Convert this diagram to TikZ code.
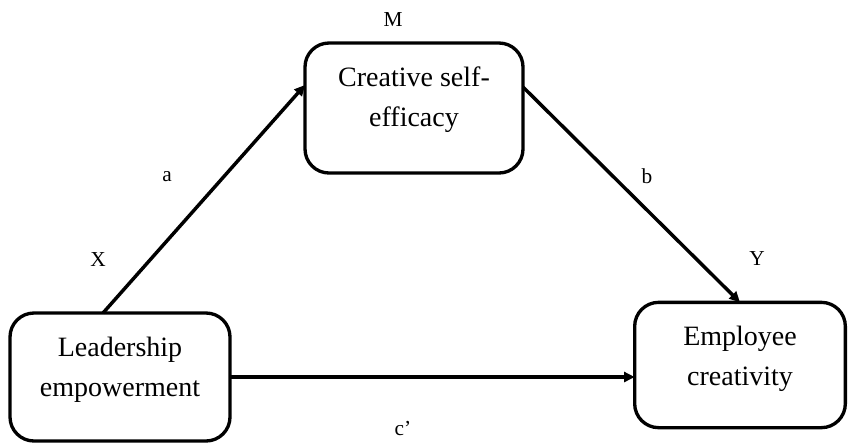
\documentclass[tikz,border=0pt]{standalone}
\usepackage{fontspec}
\setmainfont{Liberation Serif}
\usetikzlibrary{arrows.meta}
\begin{document}
\begin{tikzpicture}[x=0.75pt,y=-0.75pt,
    box/.style = {rectangle,draw=black,line width=2.5pt,rounded corners=18pt,minimum width=#1,outer sep=0mm},
    boxtext/.style = {align=center,font=\fontsize{21}{30}\selectfont},
    lbl/.style = {font=\fontsize{16}{18}\selectfont},
    path/.style = {line width=2.6pt,-{Triangle[length=8pt,width=7.5pt]}}]
\useasboundingbox (0,0) rectangle (848,444);
\node[box=165pt,minimum height=96pt]   (lead) at (120,377) {};
\node[box=163.5pt,minimum height=97.5pt] (cse)  at (414,108) {};
\node[box=158pt,minimum height=94pt]   (emp)  at (740,365) {};
\node[boxtext] (leadtxt) at (120,370) {Leadership\\empowerment};
\node[boxtext] (csetxt)  at (414,100) {Creative self-\\efficacy};
\node[boxtext] (emptxt)  at (740,359) {Employee\\creativity};
\foreach \n/\x/\y/\t in {m/393/20/M, x/98/260/X, y/757/259/Y, a/167/177/a, b/647/176/b, c/403/428/c’}
    \node[lbl] (\n) at (\x,\y) {\t};
\draw[path] ([xshift=-12.75pt]lead.north) -- ([yshift=17.25pt]cse.west);
\draw[path] ([yshift=15.75pt]cse.east) -- (emp.north);
\draw[path] (lead.east) -- (lead.east -| emp.west);
\end{tikzpicture}
\end{document}
